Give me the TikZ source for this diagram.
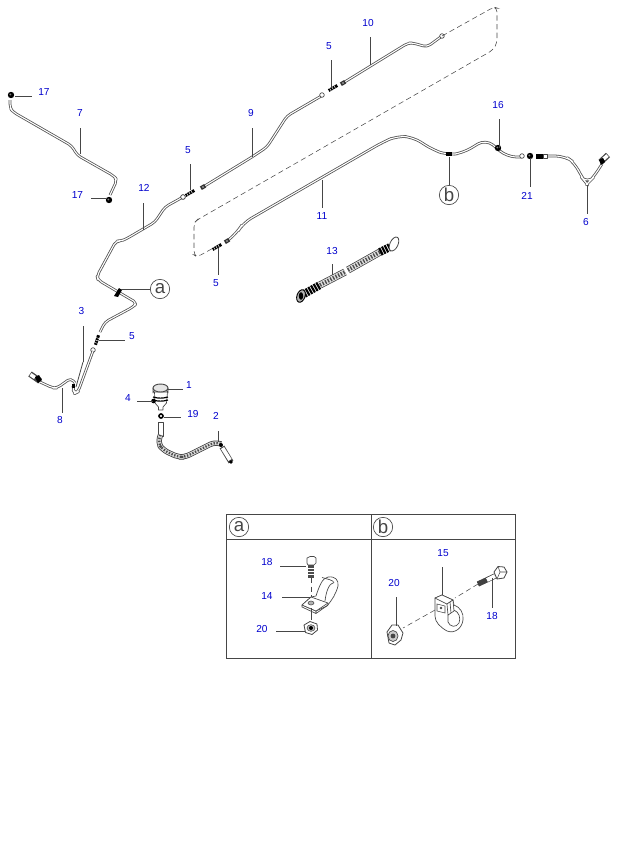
\documentclass[tikz,border=0pt]{standalone}
\usepackage{fontspec}
\setmainfont{Liberation Sans}
\definecolor{lbl}{RGB}{0,0,205}
\definecolor{ink}{RGB}{70,70,70}
\newcommand\leaderline[3]{\coordinate (#1a) at (#2); \coordinate (#1b) at (#3); \draw[leaderstyle] (#1a) -- (#1b);}
\tikzset{
  num/.style={text=lbl,font=\fontsize{7.6}{8}\selectfont,inner sep=0pt},
  bigl/.style={circle,draw=ink,line width=.5pt,minimum size=14.5pt,inner sep=0pt,text=ink,font=\fontsize{14}{14}\selectfont},
  leaderstyle/.style={draw=ink,line width=.6pt},
  tube/.style={draw=gray!65!black,double=white,double distance=.8pt,line width=.6pt,rounded corners=3pt,line join=round},
  dashline/.style={draw=ink,line width=.4pt,dash pattern=on 4pt off 2.5pt},
  part/.style={draw=ink,fill=white,line width=.5pt,line join=round},
  fitting/.pic={\fill[black] (-5,-1.5) rectangle (5,1.5); \draw[white,line width=.35pt] (-3,-1.5)--(-3,1.5) (-.5,-1.5)--(-.5,1.5) (2,-1.5)--(2,1.5);},
  nutend/.pic={\fill[black!80] (-2.5,-2) rectangle (2.5,2); \fill[white] (0,0) circle [radius=.8];},
  ring/.pic={\draw[ink,fill=white,line width=.5pt] (0,0) circle [radius=2.3];},
  fast/.pic={\fill[black] (0,0) circle [radius=3.2]; \fill[gray] (-.6,-.6) circle [radius=1];},
}
\begin{document}
\begin{tikzpicture}[x=.75pt,y=-.75pt]
\useasboundingbox (0,0) rectangle (617,865);
% tube 7
\draw[tube] (10,100) -- (10,108) -- (13,112) -- (72,146) -- (77,155) -- (114,176) -- (117,180) -- (110,195);
\pic at (11,95) {fast}; \pic at (109,200) {fast};
% tube 12
\draw[tube] (183,197) -- (165,207) -- (155,222) -- (126,239) -- (121,241) -- (116,241) -- (97,276) -- (98,280) -- (137,303) -- (133,307) -- (105,322) -- (100,332);
\pic at (183,197) {ring};
\fill[black] (119,288) -- (122,290) -- (118,297) -- (114,296) -- cycle;
\pic[rotate=72] at (97,340) {fitting};
\pic at (93,350) {ring};
% tube 3 and 8
\draw[tube] (93,351) -- (78,392) -- (75,393.5) -- (73,390) -- (73,386);
\fill[black] (71.5,384) rectangle (75,388);
\draw[ink,line width=.6pt] (83,362) -- (76,387);
\draw[tube] (40,382) -- (53,388) -- (57,388) -- (71,378) -- (75,383);
\draw[ink,line width=4.5pt] (30,374) -- (40,381);
\draw[white,line width=2.6pt] (30.5,374.5) -- (35,377.5);
\fill[black] (35,377) -- (39,375) -- (42,380) -- (38,383) -- cycle;
% tube 9, 10
\draw[tube] (203,187) -- (252,157) -- (267,147) -- (287,116) -- (323,95);
\pic[rotate=30] at (203,187) {nutend};
\pic at (322,95) {ring};
\pic[rotate=30] at (190,193) {fitting};
\pic at (183,197) {ring};
\pic[rotate=30] at (333,88) {fitting};
\draw[tube] (343,83) -- (408,43) -- (413,43) -- (427,47) -- (442,36);
\pic[rotate=30] at (343,83) {nutend};
\pic at (442,36) {ring};
% dashed link
\draw[dashline,rounded corners=3pt] (442,36) -- (494,7) -- (497,8) -- (497,43) -- (493,50) -- (197,220) -- (194,223) -- (194,255) -- (197,257) -- (217,246);
% tube 11
\draw[tube,rounded corners=7pt] (227,241) -- (237,233) -- (243,223) -- (383,142) -- (397,136) -- (413,137) -- (433,150) -- (448,155) -- (463,153) -- (486,139) -- (507,157) -- (522,157);
\pic[rotate=30] at (227,241) {nutend};
\pic at (522,156) {ring};
\pic[rotate=30] at (217,247) {fitting};
\fill[black] (449,154) +(-3,-2) rectangle +(3,2);
\pic at (498,148) {fast};
\pic at (530,156) {fast};
% tube 6
\draw[tube,rounded corners=7pt] (545,156) -- (565,156) -- (575,163) -- (582,178) -- (587,184) -- (593,178) -- (602,164);
\fill[black] (536,154) rectangle (543,159);
\draw[part] (543,154.5) rectangle (547,158);
\draw[ink,line width=4.5pt] (600.5,162) -- (608,155);
\draw[white,line width=2.6pt] (603.5,159) -- (607.5,155.5);
\fill[black] (599,160) -- (603,158) -- (605,162) -- (601,165) -- cycle;
% hose 13
\foreach \p/\q in {{(320,285)}/{(345,272)},{(348,270)}/{(380,252)}}{
  \draw[black!75,line width=5.4pt] \p -- \q;
  \draw[gray!25,line width=4.3pt] \p -- \q;
  \draw[black!70,line width=3pt,dash pattern=on 1pt off 1.2pt] \p -- \q;
}
\draw[black,line width=6pt,dash pattern=on 1.6pt off .7pt] (304,294) -- (320,285);
\draw[black,line width=6pt,dash pattern=on 1.6pt off .7pt] (380,252) -- (390,247);
\draw[black,fill=gray!60,line width=.7pt,rotate around={-20:(301,296)}] (301,296) ellipse [x radius=4,y radius=6.5];
\fill[black] (301,296) ellipse [x radius=2.2,y radius=3.8];
\draw[part,line width=.6pt,rotate around={-25:(394,244)}] (394,244) ellipse [x radius=4,y radius=7.5];
% reservoir
\draw[part] (154.5,392) -- (155,403) -- (158.5,407) -- (158.5,410) -- (163,410) -- (163,407) -- (166.5,403) -- (167.5,392) -- cycle;
\draw[black,line width=.9pt] (153,397) to[bend right=15] (168,397) (153,400) to[bend right=15] (168,400);
\draw[part,line width=.6pt] (153,388) -- (153,393) arc[start angle=180,end angle=360,x radius=7.5,y radius=4] -- (168,388) -- cycle;
\draw[ink,fill=gray!20,line width=.7pt] (160.5,388) ellipse [x radius=7.5,y radius=4];
\fill[black] (153.5,401) circle [radius=2.3];
\draw[black,line width=1.2pt] (161,416) circle [radius=2];
% hose 2
\draw[part] (158.5,422) rectangle (163,436);
\draw[black!80,line width=4pt,rounded corners=4pt,line join=round] (160.5,435) -- (158,443) -- (163,450) -- (178,457) -- (185,457) -- (215,442) -- (221,444);
\draw[gray!30,line width=2.9pt,rounded corners=4pt] (160.5,435) -- (158,443) -- (163,450) -- (178,457) -- (185,457) -- (215,442) -- (221,444);
\draw[black!70,line width=1.8pt,dash pattern=on 1pt off 1.2pt,rounded corners=4pt] (160.5,435) -- (158,443) -- (163,450) -- (178,457) -- (185,457) -- (215,442) -- (221,444);
\draw[ink,line width=4pt] (222,447) -- (231,462);
\draw[white,line width=2.8pt] (222.5,448) -- (230,460);
\fill[black] (221,445) circle [radius=2];
\fill[black] (231,462) circle [radius=1.8];
% inset box
\draw[ink,line width=.7pt] (226,514) rectangle (515,658);
\draw[ink,line width=.7pt] (226,539) -- (515,539) (371,514) -- (371,658);
\node[bigl] (ca) at (239,527) {a};
\node[bigl] (cb) at (383,527) {b};
% panel a: dashes, bolt
\draw[dashline] (311,578) -- (311,620);
\draw[part] (307,558) -- (310,556.5) -- (314,556.5) -- (316,558) -- (316,563) -- (314,565) -- (308,565) -- (307,563) -- cycle;
\fill[black!70] (308,565) rectangle (314,578);
\draw[white,line width=.3pt] (308,568)--(314,568) (308,571)--(314,571) (308,574)--(314,574);
% panel a: clamp
\draw[part] (316,596) .. controls (319,587) and (322,578) .. (328,577) .. controls (335,576) and (339,580) .. (338,586) .. controls (336,594) and (332,600) .. (327,606) -- (316,611) -- (302,605) -- (311,597) -- cycle;
\draw[part] (325,601) .. controls (326,592) and (329,583) .. (334,582.5);
\draw[ink,line width=.5pt] (322,577.5) .. controls (327,579) and (333,580) .. (334,582.5);
\draw[part] (302,605) -- (311,597) -- (328,603) -- (316,611) -- cycle;
\draw[ink,line width=.5pt] (302,605) -- (302,607) -- (316,613.5) -- (328,605) -- (328,603) (316,611) -- (316,613.5);
\draw[ink,fill=gray!60,line width=.4pt] (311,603) ellipse [x radius=3,y radius=2];
\draw[dashline] (311,608) -- (311,620);
% panel a: nut
\draw[part,line width=.6pt] (304,625) -- (310,621.5) -- (317,624) -- (317.5,630) -- (312,634.5) -- (305.5,632.5) -- cycle;
\draw[ink,fill=gray!50,line width=.4pt] (311,628) ellipse [x radius=4,y radius=3.3];
\fill[black] (311,628) circle [radius=2];
% panel b
\draw[dashline] (478,584) -- (455,598) (435,610) -- (403,628);
\draw[part] (435,598) -- (435,616) .. controls (435,622) and (440,627) .. (447,631) .. controls (455,634) and (462,628) .. (463,620) .. controls (464,613) and (460,607) .. (454,605) -- (453,600) -- (442,595) -- cycle;
\draw[part] (448,615) -- (448,622) .. controls (450,627) and (456,628) .. (459,623) .. controls (461,618) and (459,612) .. (454,610) -- cycle;
\draw[part] (435,598) -- (442,595) -- (453,600) -- (447,604) -- cycle;
\draw[part] (447,604) -- (453,600) -- (454,611) -- (448,615) -- cycle;
\draw[ink,line width=.5pt] (450,602) -- (451,613);
\fill[ink] (441,608) circle [radius=1.4];
\draw[ink,line width=.4pt] (437,604) -- (445,606) -- (445,613) -- (437,611) -- cycle;
% panel b: bolt
\draw[ink,line width=4pt] (478,584) -- (495,576);
\draw[white,line width=3pt] (487,580) -- (495,576);
\draw[black!75,line width=3.4pt,dash pattern=on 1pt off .5pt] (478,584) -- (487,580);
\draw[part,line width=.6pt] (494,572) -- (498,566.5) -- (504,567) -- (507,572) -- (504,578) -- (497,579) -- cycle;
\draw[ink,line width=.4pt] (498,566.5) -- (500,572) -- (497,579) (500,572) -- (507,572);
% panel b: nut
\draw[part,line width=.6pt] (387,632) -- (392,625) -- (398,625) -- (403,633) -- (401,640) -- (395,645) -- (389,643) -- cycle;
\draw[ink,fill=gray!40,line width=.5pt] (393,636) ellipse [x radius=5,y radius=5.5];
\fill[ink] (393,636) circle [radius=2.4];
% leaders
\leaderline{l17a}{15,96}{32,96}
\leaderline{l7}{80.5,128}{80.5,154}
\leaderline{l17b}{91,198}{106,198}
\leaderline{l12}{143.5,203}{143.5,230}
\leaderline{l5a}{190,164}{190,190}
\leaderline{l5b}{331,60}{331,87}
\leaderline{l9}{252,128}{252,157}
\leaderline{l10}{370,37}{370,65}
\leaderline{l11}{322,180}{322,208}
\leaderline{l5c}{218,248}{218,275}
\leaderline{l13}{332,264}{332,275}
\leaderline{l16}{499,119}{499,148}
\leaderline{l21}{530,158}{530,187}
\leaderline{l6}{587,185}{587,214}
\leaderline{l5d}{99,340}{125,340}
\leaderline{l3}{83,326}{83,362}
\leaderline{l8}{62.7,388}{62.7,413}
\leaderline{l1}{168,389}{183,389}
\leaderline{l4}{137,401}{153,401}
\leaderline{l19}{164,417}{181,417}
\leaderline{l2}{218,431}{218,442}
\leaderline{l18a}{280,566}{306,566}
\leaderline{l14}{282,597}{310,597}
\leaderline{l20a}{276,631}{305,631}
\leaderline{l15}{442,567}{442,595}
\leaderline{l20b}{396,597}{396,626}
\leaderline{l18b}{492,578}{492,608}
% callouts a, b
\node[bigl] (ma) at (160,289) {a};
\node[bigl] (mb) at (449,195) {b};
\coordinate (pa) at (121,289);
\coordinate (pb) at (449,157);
\draw[leaderstyle] (pa) -- (ma);
\draw[leaderstyle] (pb) -- (mb);
% labels
\node[num] (t17a) at (44,92) {17};
\node[num] (t7) at (80,113) {7};
\node[num] (t17b) at (77.5,195) {17};
\node[num] (t12) at (144,188) {12};
\node[num] (t5a) at (188,150) {5};
\node[num] (t5b) at (329,46) {5};
\node[num] (t9) at (251,113) {9};
\node[num] (t10) at (368,23) {10};
\node[num] (t11) at (322,216) {11};
\node[num] (t5c) at (216,283) {5};
\node[num] (t13) at (332,251) {13};
\node[num] (t16) at (498,105) {16};
\node[num] (t21) at (527,196) {21};
\node[num] (t6) at (586,222) {6};
\node[num] (t5d) at (132,336) {5};
\node[num] (t3) at (81.5,311) {3};
\node[num] (t8) at (60,420) {8};
\node[num] (t1) at (189,385) {1};
\node[num] (t4) at (128,398) {4};
\node[num] (t19) at (193,414) {19};
\node[num] (t2) at (216,416) {2};
\node[num] (t18a) at (267,562) {18};
\node[num] (t14) at (267,596) {14};
\node[num] (t20a) at (262,629) {20};
\node[num] (t15) at (443,553) {15};
\node[num] (t20b) at (394,583) {20};
\node[num] (t18b) at (492,616) {18};
\end{tikzpicture}
\end{document}
